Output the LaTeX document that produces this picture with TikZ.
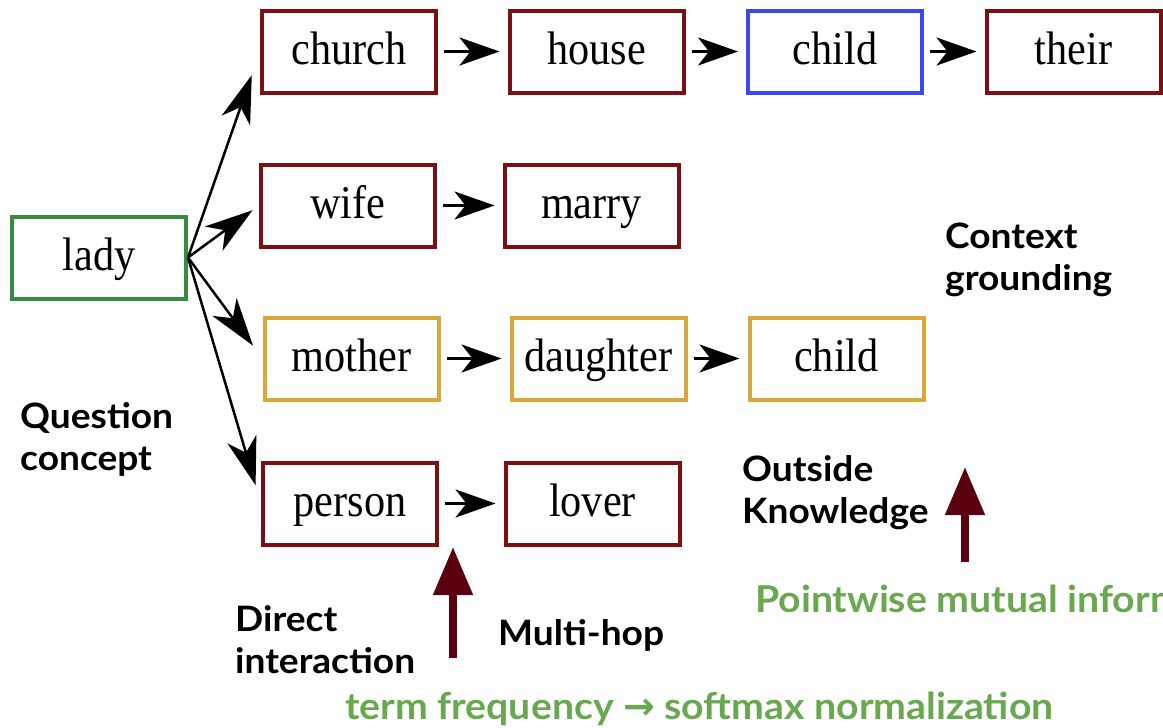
\documentclass[tikz,border=0pt]{standalone}
\usepackage{fontspec}
\setmainfont{Liberation Serif}
\newfontfamily\wordfont[FakeStretch=0.9]{Liberation Serif}
\newfontfamily\remarkfont[FakeStretch=1.06]{Lato}
\newfontfamily\arrowfont{DejaVu Sans}
\usetikzlibrary{arrows.meta,positioning,calc}

\definecolor{boxred}{RGB}{125,15,20}
\definecolor{boxgold}{RGB}{218,168,58}
\definecolor{boxblue}{RGB}{60,70,245}
\definecolor{boxgreen}{RGB}{55,140,65}
\definecolor{notegreen}{RGB}{106,168,79}
\definecolor{arrowred}{RGB}{90,0,15}

\begin{document}
\begin{tikzpicture}[
        x=1pt, y=-1pt,
        word/.style = {rectangle, draw, line width=4pt, fill=white, minimum width=174pt, minimum height=82pt, inner sep=0pt, text height=34pt, text depth=8pt, font=\fontsize{47}{50}\selectfont\wordfont},
        redword/.style = {word, draw=boxred},
        goldword/.style = {word, draw=boxgold},
        blueword/.style = {word, draw=boxblue},
        greenword/.style = {word, draw=boxgreen},
        link/.style = {draw, line width=2.5pt, -{Stealth[length=40pt,width=28pt,inset=11pt]}, shorten <=6pt, shorten >=8pt},
        fan/.style = {draw, line width=2.5pt, -{Stealth[length=48pt,width=30pt,inset=14pt]}},
        bigarrow/.style = {draw=arrowred, line width=8pt, -{Triangle[length=48pt,width=38pt]}},
        remark/.style = {font=\fontsize{35}{42}\selectfont\remarkfont\bfseries, align=left, anchor=base west, inner sep=0pt},
        greenremark/.style = {remark, font=\fontsize{37}{42}\selectfont\remarkfont\bfseries, text=notegreen}
    ]
        \useasboundingbox (0,0) rectangle (1163,728);
        \clip (0,0) rectangle (1163,728);

        % Place nodes
        \node [greenword] at (99,257.5)(lady) {lady};

        \node [redword] at (349,51.5)(church) {church};
        \node [redword] at (596.5,51.5)(house) {house};
        \node [blueword] at (835,51.5)(child1) {child};
        \node [redword] at (1073.5,51.5)(their) {their};

        \node [redword] at (348,205.5)(wife) {wife};
        \node [redword] at (591.5,205.5)(marry) {marry};

        \node [goldword] at (351.5,358.5)(mother) {mother};
        \node [goldword] at (598.5,358.5)(daughter) {daughter};
        \node [goldword] at (836.5,358.5)(child2) {child};

        \node [redword] at (350,503.5)(person) {person};
        \node [redword] at (592.5,503.5)(lover) {lover};

        % last line sits on the given point
        \node [remark] at (945,290)(context) {Context\\grounding};
        \node [remark] at (20,470)(question) {Question\\concept};
        \node [remark] at (742,523)(outside) {Outside\\Knowledge};
        \node [remark] at (235,673)(direct) {Direct\\interaction};
        \node [remark] at (498,645)(multihop) {Multi-hop};
        \node [greenremark] at (755,612)(pmi) {Pointwise mutual information};
        \node [greenremark] at (345,719)(tf) {term frequency {\arrowfont\fontsize{38}{40}\selectfont →} softmax normalization};

        \coordinate (hoptail) at (453,658);
        \coordinate (hoptip) at (453,547);
        \coordinate (knowtail) at (965,562);
        \coordinate (knowtip) at (965,467);

        % % Draw edges
        \draw [fan, shorten >=25pt] (lady.east) -- (church.west);
        \draw [fan, shorten >=8pt] (lady.east) -- (wife.west);
        \draw [fan, shorten >=16pt] (lady.east) -- (mother.west);
        \draw [fan, shorten >=19pt] (lady.east) -- (person.west);

        \draw [link] (church) -- (house);
        \draw [link] (house) -- (child1);
        \draw [link] (child1) -- (their);
        \draw [link] (wife) -- (marry);
        \draw [link] (mother) -- (daughter);
        \draw [link] (daughter) -- (child2);
        \draw [link] (person) -- (lover);

        \draw [bigarrow] (hoptail) -- (hoptip);
        \draw [bigarrow] (knowtail) -- (knowtip);

    \end{tikzpicture}
\end{document}
